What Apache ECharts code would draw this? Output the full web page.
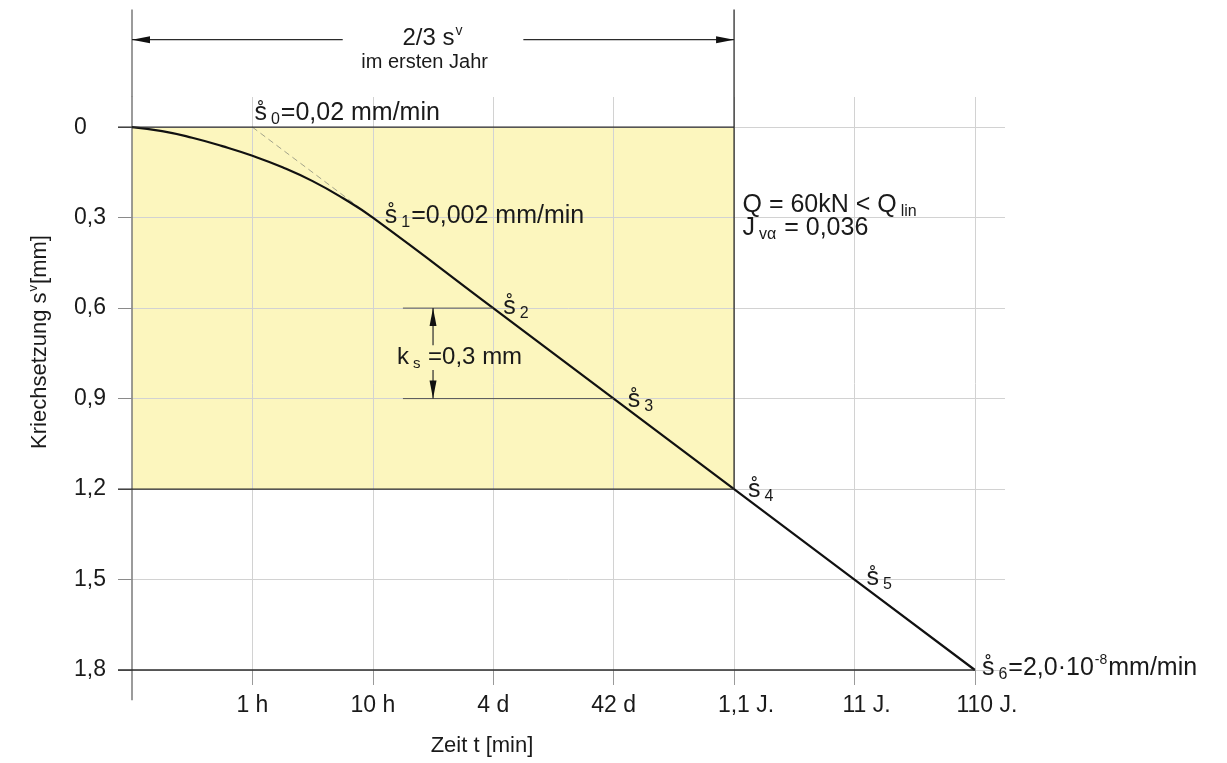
<!DOCTYPE html>
<html>
<head>
<meta charset="utf-8">
<script src="https://cdn.jsdelivr.net/npm/echarts@6/dist/echarts.min.js"></script>
<style>
  html, body { margin: 0; padding: 0; background: #ffffff; }
  #chart { width: 1227px; height: 763px; }
</style>
</head>
<body>
<div id="chart"></div>
<script>
// Time axis: position in decades counted from t = 6 min (1 h = 1, 10 h = 2, ...)
const timeTickValues = [1, 2, 3, 4, 5, 6, 7];
const timeTickLabels = ['1 h', '10 h', '4 d', '42 d', '1,1 J.', '11 J.', '110 J.'];

// Creep settlement axis [mm]
const settlementTicks = [0, 0.3, 0.6, 0.9, 1.2, 1.5, 1.8];

// Creep settlement curve s^v over log time
const curveDecade = [0, 0.25, 0.5, 0.75, 1, 1.25, 1.5, 1.75, 2, 3, 4, 5, 6, 7];
const curveSettlement = [0, 0.013, 0.035, 0.063, 0.095, 0.133, 0.179, 0.235, 0.3, 0.6, 0.9, 1.2, 1.5, 1.8];

// Initial tangent (rate s0)
const tangentDecade = [1, 2];
const tangentSettlement = [0, 0.3];

// Creep rates along the curve
const rateDecade = [1, 2, 3, 4, 5, 6, 7];
const rateSettlement = [0, 0.3, 0.6, 0.9, 1.2, 1.5, 1.8];
const rateIndex = ['0', '1', '2', '3', '4', '5', '6'];
const rateText = ['{t|=0,02 mm/min}', '{t|=0,002 mm/min}', '', '', '', '', '{t|=2,0·10}{sup|-8}{t|mm/min}'];

// First year: 2/3 of the settlement, creep coefficient k_s
const firstYearDecade = 5;
const firstYearSettlement = 1.2;
const ksFrom = 0.6;
const ksTo = 0.9;

// Label placement relative to each rate point [px]
const rateLabelOffset = [[2, -14], [12, -2], [10, -1], [14, 2], [14, 1], [12, -1], [7, -2]];

const FONT = '"Liberation Sans", Arial, Helvetica, sans-serif';
const INK = '#1a1a1a';
const DARK = '#2b2b2b';
const ring = 's\u030A';

function richSet(size, subSize) {
  return {
    s: { fontSize: size, fontFamily: FONT, color: INK, fill: INK, lineHeight: size + 4 },
    t: { fontSize: size, fontFamily: FONT, color: INK, fill: INK, lineHeight: size + 4 },
    sub: { fontSize: subSize, fontFamily: FONT, color: INK, fill: INK, verticalAlign: 'bottom', padding: [0, 1, 0, 4] },
    sup: { fontSize: subSize - 2, fontFamily: FONT, color: INK, fill: INK, verticalAlign: 'top', padding: [0, 1, 0, 1] }
  };
}

const chart = echarts.init(document.getElementById('chart'), null, { renderer: 'canvas' });

const option = {
  animation: false,
  backgroundColor: '#ffffff',
  grid: { left: 132, top: 97, width: 873, height: 573, containLabel: false },
  xAxis: {
    type: 'value',
    min: 0,
    max: 7.25,
    z: 2,
    axisLine: { show: false, onZero: false },
    axisTick: { show: true, customValues: timeTickValues, length: 15, lineStyle: { color: '#9a9a9a', width: 1 } },
    axisLabel: {
      customValues: timeTickValues,
      margin: 24,
      formatter: function (v) {
        const txt = timeTickLabels[timeTickValues.indexOf(Math.round(v))] || '';
        // year labels keep their number centred on the tick
        return txt.endsWith(' J.') ? '{y|' + txt + '}' : '{n|' + txt + '}';
      },
      rich: {
        n: { fontSize: 23, fontFamily: FONT, color: INK },
        y: { fontSize: 23, fontFamily: FONT, color: INK, padding: [0, 0, 0, 24] }
      }
    },
    splitLine: { show: true, lineStyle: { color: '#d2d2d2', width: 1 } }
  },
  yAxis: {
    type: 'value',
    inverse: true,
    min: -0.1,
    max: 1.8,
    z: 2,
    axisLine: { show: true, onZero: false, lineStyle: { color: '#7a7a7a', width: 1.5 } },
    axisTick: { show: true, customValues: settlementTicks, length: 14, lineStyle: { color: '#8a8a8a', width: 1 } },
    axisLabel: {
      customValues: settlementTicks,
      align: 'left',
      margin: 58,
      fontSize: 23,
      fontFamily: FONT,
      color: INK,
      formatter: function (v) { return v === 0 ? '0' : v.toFixed(1).replace('.', ','); }
    },
    splitLine: { show: true, lineStyle: { color: '#d2d2d2', width: 1 } }
  },
  series: [
    {
      // shaded first-year region
      type: 'line',
      z: 0,
      data: [],
      markArea: {
        silent: true,
        z: 0,
        itemStyle: { color: '#fcf6be', borderWidth: 0 },
        data: [[{ coord: [0, 0] }, { coord: [firstYearDecade, firstYearSettlement] }]]
      }
    },
    {
      type: 'line',
      z: 3,
      data: tangentDecade.map((d, i) => [d, tangentSettlement[i]]),
      symbol: 'none',
      lineStyle: { color: '#a3a38a', width: 1, type: [6, 4] }
    },
    {
      type: 'line',
      z: 5,
      data: curveDecade.map((d, i) => [d, curveSettlement[i]]),
      smooth: 0.5,
      symbol: 'none',
      lineStyle: { color: '#111111', width: 2.2 }
    },
    {
      type: 'scatter',
      z: 6,
      symbolSize: 0,
      itemStyle: { opacity: 1 },
      data: rateDecade.map((d, i) => ({
        value: [d, rateSettlement[i]],
        label: { offset: rateLabelOffset[i] }
      })),
      label: {
        show: true,
        position: 'right',
        distance: 0,
        formatter: function (p) {
          const i = p.dataIndex;
          return '{s|' + ring + '}{sub|' + rateIndex[i] + '}' + rateText[i];
        },
        rich: richSet(25, 16)
      }
    }
  ]
};

chart.setOption(option);

// Annotations placed through the chart's own coordinate conversion
function px(x, y) { return chart.convertToPixel({ gridIndex: 0 }, [x, y]); }
function seg(a, b, color, width, dash) {
  return {
    type: 'line', silent: true, z: 20,
    shape: { x1: a[0], y1: a[1], x2: b[0], y2: b[1] },
    style: { stroke: color, lineWidth: width, lineDash: dash || null }
  };
}
function arrow(tip, dir, len, half) {
  const [x, y] = tip;
  let pts;
  if (dir === 'left') pts = [[x, y], [x + len, y - half], [x + len, y + half]];
  else if (dir === 'right') pts = [[x, y], [x - len, y - half], [x - len, y + half]];
  else if (dir === 'up') pts = [[x, y], [x - half, y + len], [x + half, y + len]];
  else pts = [[x, y], [x - half, y - len], [x + half, y - len]];
  return { type: 'polygon', silent: true, z: 20, shape: { points: pts }, style: { fill: '#111111' } };
}
function label(p, text, rich, align, extra) {
  return Object.assign({
    type: 'text', silent: true, z: 20, x: p[0], y: p[1],
    style: { text: text, rich: rich, align: align || 'left', verticalAlign: 'middle', fill: INK, fontFamily: FONT }
  }, extra || {});
}

const topY = -0.39;     // upper end of the frame lines
const dimY = -0.29;     // level of the first-year dimension arrow
const axisEnd = 1.9;    // lower end of the settlement axis line
const r25 = richSet(25, 16);
const r20 = richSet(20, 14);
const r22 = richSet(22, 15);

const graphics = [
  // settlement axis line above and below the plot
  seg(px(0, topY), px(0, -0.1), '#7a7a7a', 1.5),
  seg(px(0, 1.8), px(0, axisEnd), '#7a7a7a', 1.5),
  // time axis line
  seg([px(0, 1.8)[0] - 14, px(0, 1.8)[1]], px(7, 1.8), DARK, 1.3),
  // first-year frame
  seg([px(0, 0)[0] - 14, px(0, 0)[1]], px(firstYearDecade, 0), DARK, 1.3),
  seg([px(0, firstYearSettlement)[0] - 14, px(0, firstYearSettlement)[1]], px(firstYearDecade, firstYearSettlement), DARK, 1.3),
  seg(px(firstYearDecade, topY), px(firstYearDecade, firstYearSettlement), DARK, 1.3),
  // dimension arrow "2/3 s^v im ersten Jahr"
  seg(px(0, dimY), px(1.75, dimY), DARK, 1.2),
  seg(px(3.25, dimY), px(firstYearDecade, dimY), DARK, 1.2),
  arrow(px(0, dimY), 'left', 18, 3.5),
  arrow(px(firstYearDecade, dimY), 'right', 18, 3.5),
  label(px(2.5, -0.295), '{t|2/3 s}{sup|v}', richSet(24, 16), 'center'),
  label(px(2.43, -0.213), '{t|im ersten Jahr}', r20, 'center'),
  // k_s dimension
  seg(px(2.25, ksFrom), px(3, ksFrom), '#555555', 1),
  seg(px(2.25, ksTo), px(4, ksTo), '#555555', 1),
  seg(px(2.5, ksFrom), px(2.5, 0.723), DARK, 1.2),
  seg(px(2.5, 0.805), px(2.5, ksTo), DARK, 1.2),
  arrow(px(2.5, ksFrom), 'up', 18, 3.5),
  arrow(px(2.5, ksTo), 'down', 18, 3.5),
  label(px(2.2, 0.763), '{t|k}{sub|s}{t| =0,3 mm}', richSet(24, 15)),
  // load case
  label(px(5.07, 0.259), '{t|Q = 60kN < Q}{sub|lin}', r25),
  label(px(5.07, 0.335), '{t|J}{sub|v\u03B1}{t| = 0,036}', r25),
  // axis titles
  label([40, 342], '{t|Kriechsetzung s}{sup|v}{t|[mm]}', r22, 'center', { rotation: Math.PI / 2 }),
  label([482, 746], '{t|Zeit t [min]}', r22, 'center')
];

chart.setOption({ graphic: graphics });
</script>
</body>
</html>
